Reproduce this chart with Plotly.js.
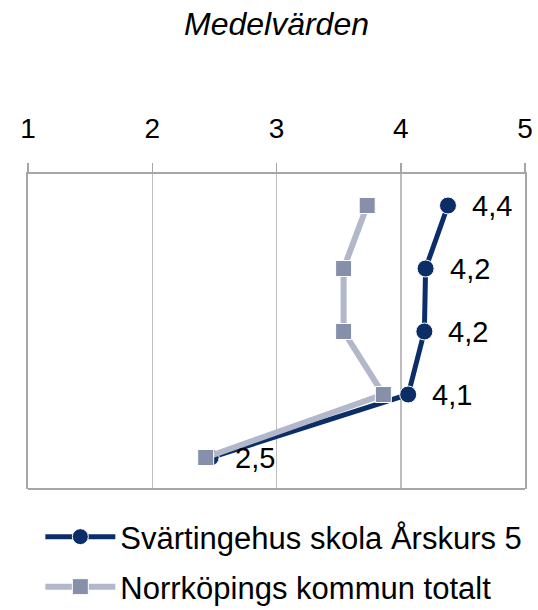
<!DOCTYPE html>
<html>
<head>
<meta charset="utf-8">
<script src="https://cdn.plot.ly/plotly-3.0.1.min.js"></script>
<style>html,body{margin:0;padding:0;background:#fff;}#chart{width:538px;height:610px;}</style>
</head>
<body>
<div id="chart"></div>
<script>
// Data
const rows = [1, 2, 3, 4, 5];                 // question rows, top to bottom
const seriesNames = ['Svärtingehus skola Årskurs 5', 'Norrköpings kommun totalt'];
const svartingehus = [4.38, 4.20, 4.19, 4.06, 2.47];
const norrkoping = [3.73, 3.54, 3.54, 3.86, 2.43];
const xTicks = [1, 2, 3, 4, 5];
const xTickLabels = ['1', '2', '3', '4', '5'];

const navy = '#0c2e68';
const greyLine = '#b2b7c9';
const greyMarker = '#8790ab';
const FONT = 'Liberation Sans, Arial, sans-serif';

const traces = [
  {
    x: svartingehus, y: rows, name: seriesNames[0], type: 'scatter', mode: 'lines+markers',
    line: {color: navy, width: 5},
    marker: {symbol: 'circle', size: 17, color: navy, line: {color: '#ffffff', width: 1}},
    legend: 'legend', cliponaxis: false
  },
  {
    x: norrkoping, y: rows, name: seriesNames[1], type: 'scatter', mode: 'lines+markers',
    line: {color: greyLine, width: 6},
    marker: {symbol: 'square', size: 16, color: greyMarker, line: {color: '#ffffff', width: 1}},
    legend: 'legend2', cliponaxis: false
  }
];

const annotations = svartingehus.map((v, i) => ({
  x: v, y: rows[i], xref: 'x', yref: 'y',
  text: v.toFixed(1).replace('.', ','),
  showarrow: false, xanchor: 'left', yanchor: 'middle', xshift: 22,
  font: {family: FONT, size: 29, color: '#000'}
}));

const legendFont = {family: FONT, size: 31, color: '#000'};

const layout = {
  width: 538, height: 610,
  margin: {l: 28, r: 13, t: 174, b: 121, autoexpand: false},
  paper_bgcolor: '#fff', plot_bgcolor: '#fff',
  font: {family: FONT, color: '#000'},
  title: {
    text: '<i>Medelvärden</i>', x: 0.5, xanchor: 'center', y: 1 - 24 / 610, yanchor: 'middle',
    yref: 'container', xref: 'paper', automargin: false,
    font: {family: FONT, size: 32, color: '#000'}
  },
  xaxis: {
    side: 'top', range: [1, 5], tickvals: xTicks, ticktext: xTickLabels,
    showgrid: true, gridcolor: '#bdbdbd', gridwidth: 1.5,
    showline: true, linecolor: '#a6a6a6', linewidth: 2,
    ticks: 'outside', ticklen: 9, tickcolor: '#a6a6a6', tickwidth: 1.5,
    ticklabelstandoff: 14, automargin: false,
    tickfont: {family: FONT, size: 28, color: '#000'},
    zeroline: false, fixedrange: true
  },
  yaxis: {
    range: [5.5, 0.5], showticklabels: false, showgrid: false, zeroline: false, automargin: false,
    showline: true, mirror: true, linecolor: '#a6a6a6', linewidth: 2, ticks: '', fixedrange: true
  },
  shapes: [
    {type: 'line', xref: 'paper', yref: 'paper', x0: 0, x1: 1, y0: 0, y1: 0,
     line: {color: '#a6a6a6', width: 2}}
  ],
  annotations: annotations,
  showlegend: true,
  legend: {
    xref: 'container', yref: 'container', x: 0.075, y: 1 - 537 / 610, itemwidth: 70,
    xanchor: 'left', yanchor: 'middle', font: legendFont, bgcolor: 'rgba(0,0,0,0)'
  },
  legend2: {
    xref: 'container', yref: 'container', x: 0.075, y: 1 - 587 / 610, itemwidth: 70,
    xanchor: 'left', yanchor: 'middle', font: legendFont, bgcolor: 'rgba(0,0,0,0)'
  }
};

Plotly.newPlot('chart', traces, layout, {displayModeBar: false, staticPlot: true});
</script>
</body>
</html>
